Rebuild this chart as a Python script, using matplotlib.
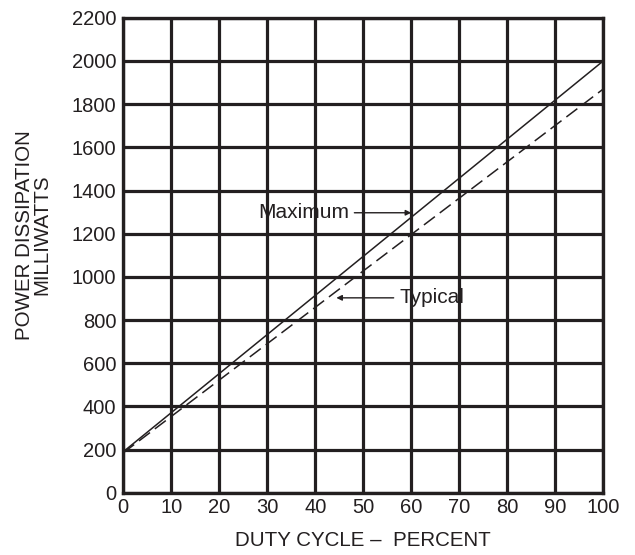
import matplotlib.pyplot as plt

plt.rcParams["font.family"] = ["Liberation Sans", "DejaVu Sans"]

# data
duty = [0, 100]
power_max = [190, 2000]
power_typ = [185, 1870]

x_ticks = list(range(0, 101, 10))
y_ticks = list(range(0, 2201, 200))

ink = "#231f20"

fig = plt.figure(figsize=(6.35, 5.55), dpi=100)
ax = fig.add_axes([0.194, 0.112, 0.756, 0.856])

ax.plot(duty, power_max, color=ink, lw=1.1)
ax.plot(duty, power_typ, color=ink, lw=1.1, dashes=(9, 4))

ax.set_xlim(0, 100)
ax.set_ylim(0, 2200)
ax.set_xticks(x_ticks)
ax.set_yticks(y_ticks)
ax.tick_params(length=0, labelsize=14.5, labelcolor=ink)
ax.tick_params(axis="y", pad=5)
ax.tick_params(axis="x", pad=4)
ax.grid(True, color=ink, lw=2.3)
ax.set_axisbelow(True)
for s in ax.spines.values():
    s.set_color(ink)
    s.set_linewidth(2.4)

ax.annotate("Maximum", xy=(60, 1297), xytext=(47, 1297),
            ha="right", va="center", fontsize=15, color=ink,
            arrowprops=dict(arrowstyle="-|>", color=ink, lw=1.0,
                            mutation_scale=8, shrinkA=2, shrinkB=0))
ax.annotate("Typical", xy=(44.4, 903), xytext=(57.5, 903),
            ha="left", va="center", fontsize=15, color=ink,
            arrowprops=dict(arrowstyle="-|>", color=ink, lw=1.0,
                            mutation_scale=8, shrinkA=2, shrinkB=0))

fig.text(0.572, 0.027, "DUTY CYCLE \u2013  PERCENT", ha="center", va="center",
         fontsize=14.8, color=ink)
fig.text(0.052, 0.577, "POWER DISSIPATION\nMILLIWATTS", ha="center", va="center",
         rotation=90, fontsize=14.8, color=ink, linespacing=0.92)

fig.savefig("out.png", dpi=100)
